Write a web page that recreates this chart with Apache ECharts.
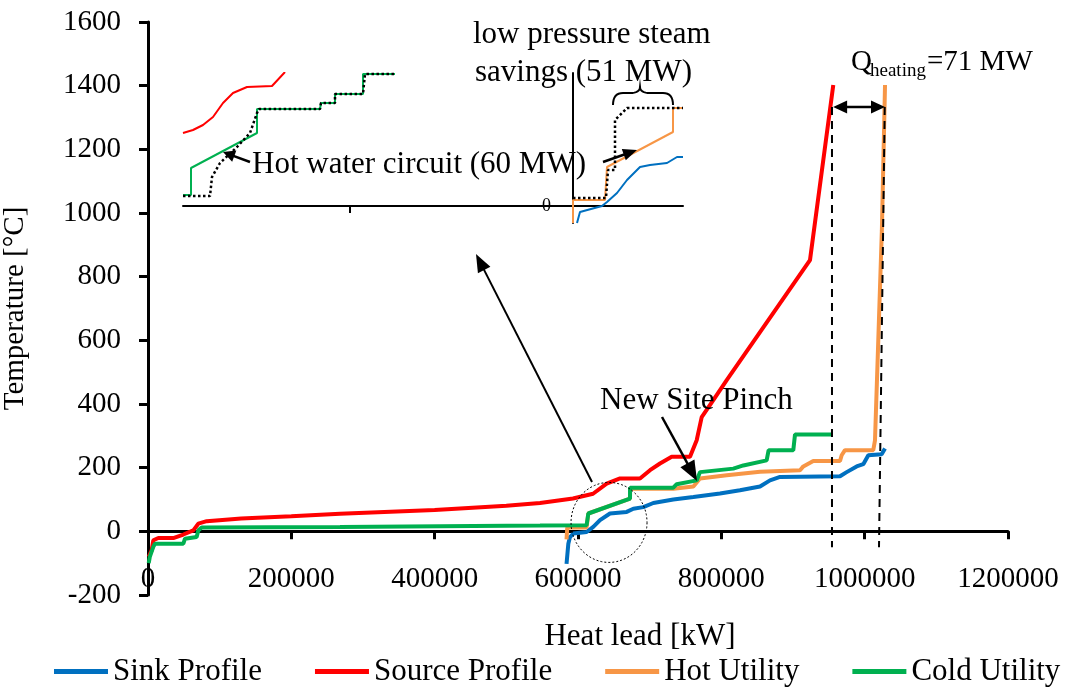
<!DOCTYPE html>
<html><head><meta charset="utf-8">
<script src="https://cdn.jsdelivr.net/npm/echarts@6/dist/echarts.min.js"></script>
<style>html,body{margin:0;padding:0;background:#fff}#c{width:1069px;height:689px}</style>
</head><body><div id="c"></div>
<script>
const FONT = '"Liberation Serif","Times New Roman",serif';
const FS = 29;   // tick labels
const FT = 31;   // horizontal annotation / legend text

// ---- main chart data: [heat load kW, temperature °C] ----
const sinkProfile = [[584000,-102],[586500,-39],[588800,-18],[593400,-7],[612000,-2],[621300,14],[630700,35],[644600,56],[667900,61],[677200,71],[691100,76],[705100,89],[733000,100],[761000,108],[798100,119],[826000,129],[854000,141],[867900,160],[881900,171],[965600,173],[974900,186],[988800,204],[998100,211],[1005100,239],[1023700,242],[1028400,260]];
const sourceProfile = [[1000,-80],[5100,-60],[7400,-28],[14400,-21],[35300,-21],[49300,-10],[63200,3],[70200,24],[81900,32],[130000,40],[200000,47],[268000,55],[400000,67],[500000,80],[547000,89],[593000,103],[621000,118],[640000,150],[658600,166],[686500,166],[700500,192],[714400,213],[730700,234],[756300,234],[765600,286],[772600,359],[788800,412],[807500,475],[923700,852],[956200,1402]];
const hotUtility = [[584000,-25],[585000,12],[612000,12],[614400,56],[672600,103],[672600,134],[733000,134],[761000,141],[770200,166],[807500,176],[854000,187],[909800,192],[914400,204],[928300,221],[965600,221],[967900,239],[972500,255],[1012000,255],[1014400,286],[1019000,600],[1024000,946],[1028400,1402]];
const coldUtility = [[1000,-100],[2500,-80],[7400,-49],[9700,-39],[49300,-39],[51600,-23],[67900,-18],[70200,3],[74900,12],[268000,14],[547000,18],[612000,19],[614400,56],[672600,103],[672600,137],[733000,137],[737700,148],[765600,160],[770200,186],[816700,197],[830700,207],[863200,223],[866000,255],[900400,255],[902800,304],[953900,304]];

// ---- inset (zoomed detail) data, relative units ----
const insetSource = [[-390,73],[-380,76],[-370,81],[-360,89],[-350,103],[-340,113],[-326,119],[-301,120],[-288,134]];
const insetColdLeft = [[-390,11],[-382,11],[-382,38],[-316,73],[-316,97],[-253,97],[-252,103],[-238,103],[-238,112],[-210,112],[-210,132],[-178,132]];
const insetDottedLeft = [[-390,10],[-363,10],[-361,29],[-353,43],[-336,59],[-323,73],[-316,93],[-314,97],[-253,97],[-252,103],[-238,103],[-238,112],[-210,112],[-208,132],[-178,132]];
const insetHot = [[0,-17],[0,6],[32,6],[34,39],[100,74],[100,98],[110,98]];
const insetDottedRight = [[0,8],[33,8],[35,36],[42,36],[42,86],[54,98],[110,98]];
const insetSink = [[4,-17],[7,-6],[29,0],[34,4],[44,13],[54,26],[67,39],[77,41],[94,43],[104,49],[110,49]];

const seriesNames = ['Sink Profile','Source Profile','Hot Utility','Cold Utility'];
const colors = {sink:'#0070C0', source:'#FF0000', hot:'#F79646', cold:'#00B050'};

const chart = echarts.init(document.getElementById('c'), null, {renderer:'canvas'});

function line(name, data, color, width, xi, type) {
  return {name, type:'line', data, xAxisIndex:xi, yAxisIndex:xi, showSymbol:false, symbol:'none',
    lineStyle:{color, width, type: type||'solid'}, itemStyle:{color}, animation:false, z: 3};
}
const txt = {color:'#000', fontFamily:FONT, fontSize:FS};
const plain = v => String(v);

const option = {
  backgroundColor:'#fff',
  animation:false,
  grid:[
    {left:148, right:61, top:22, bottom:94, outerBoundsMode:'none', containLabel:false},
    {left:183, right:386, top:73, bottom:466, outerBoundsMode:'none', containLabel:false}
  ],
  legend:{
    data:seriesNames, left:54, top:656, itemWidth:54, itemHeight:5, itemGap:53, icon:'rect', padding:0,
    textStyle:{color:'#000', fontFamily:FONT, fontSize:FT}
  },
  xAxis:[
    {gridIndex:0, type:'value', min:0, max:1200000, interval:200000,
     axisLine:{onZero:true, lineStyle:{color:'#000', width:3}},
     axisTick:{show:true, length:8, lineStyle:{color:'#000', width:3}},
     axisLabel:{...txt, margin:-30, formatter:plain},
     splitLine:{show:false}},
    {gridIndex:1, type:'value', min:-390, max:110,
     axisLine:{onZero:true, lineStyle:{color:'#000', width:2}},
     axisTick:{show:true, customValues:[-223], length:7, lineStyle:{color:'#000', width:2}},
     axisLabel:{show:false}, splitLine:{show:false}}
  ],
  yAxis:[
    {gridIndex:0, type:'value', min:-200, max:1600, interval:200,
     name:'Temperature [°C]', nameLocation:'middle', nameGap:118, nameRotate:90,
     nameTextStyle:{...txt},
     axisLine:{show:true, onZero:false, lineStyle:{color:'#000', width:3}},
     axisTick:{show:true, length:9, lineStyle:{color:'#000', width:3}},
     axisLabel:{...txt, margin:27, formatter:plain},
     splitLine:{show:false}},
    {gridIndex:1, type:'value', min:-17, max:133,
     axisLine:{show:true, onZero:true, lineStyle:{color:'#000', width:2}},
     axisTick:{show:false},
     axisLabel:{color:'#000', fontFamily:FONT, fontSize:18, margin:-368, customValues:[0], formatter:plain},
     splitLine:{show:false}}
  ],
  series:[
    line('Sink Profile', sinkProfile, colors.sink, 4, 0),
    line('Source Profile', sourceProfile, colors.source, 4, 0),
    line('Hot Utility', hotUtility, colors.hot, 4, 0),
    line('Cold Utility', coldUtility, colors.cold, 4, 0),
    line('inset source', insetSource, colors.source, 2, 1),
    line('inset cold', insetColdLeft, colors.cold, 2, 1),
    line('inset dotted left', insetDottedLeft, '#000', 2.5, 1, 'dotted'),
    line('inset hot', insetHot, colors.hot, 2, 1),
    line('inset sink', insetSink, colors.sink, 2, 1),
    line('inset dotted right', insetDottedRight, '#000', 2.5, 1, 'dotted')
  ]
};
chart.setOption(option);

function P(x, y) { return chart.convertToPixel({gridIndex:0}, [x, y]); }

function arrow(x1, y1, x2, y2, hl, hw, lw, both) {
  const dx = x2 - x1, dy = y2 - y1, L = Math.hypot(dx, dy);
  const ux = dx / L, uy = dy / L, nx = -uy, ny = ux;
  const els = [];
  const head = (tx, ty, sx, sy) => ({type:'polygon', z:100,
    shape:{points:[[tx,ty],[tx - sx*hl + nx*hw/2, ty - sy*hl + ny*hw/2],[tx - sx*hl - nx*hw/2, ty - sy*hl - ny*hw/2]]},
    style:{fill:'#000'}});
  const sx1 = both ? x1 + ux*hl*0.8 : x1, sy1 = both ? y1 + uy*hl*0.8 : y1;
  els.push({type:'line', z:100, shape:{x1:sx1, y1:sy1, x2:x2 - ux*hl*0.8, y2:y2 - uy*hl*0.8}, style:{stroke:'#000', lineWidth:lw}});
  els.push(head(x2, y2, ux, uy));
  if (both) els.push(head(x1, y1, -ux, -uy));
  return els;
}
function text(s, x, y, size, align) {
  return {type:'text', z:100, x, y, style:{text:s, fill:'#000', fontFamily:FONT, fontSize:size||FT,
    align:align||'left', verticalAlign:'middle'}};
}
function quad(p0, c, p1, n) {
  const pts = [];
  for (let i = 0; i <= n; i++) {
    const t = i / n, a = (1-t)*(1-t), b = 2*(1-t)*t, d = t*t;
    pts.push([a*p0[0] + b*c[0] + d*p1[0], a*p0[1] + b*c[1] + d*p1[1]]);
  }
  return pts;
}

const g = [];
// dashed pinch lines
const dl1a = P(954400, 1333), dl1b = P(954400, -50);
const dl2a = P(1028000, 1333), dl2b = P(1020000, -50);
g.push({type:'line', z:90, shape:{x1:dl1a[0], y1:dl1a[1], x2:dl1b[0], y2:dl1b[1]}, style:{stroke:'#000', lineWidth:2, lineDash:[8,6]}});
g.push({type:'line', z:90, shape:{x1:dl2a[0], y1:dl2a[1], x2:dl2b[0], y2:dl2b[1]}, style:{stroke:'#000', lineWidth:2, lineDash:[8,6]}});
// double arrow Q heating
const qa = P(956000, 1333), qb = P(1028400, 1333);
g.push(...arrow(qa[0], qa[1], qb[0], qb[1], 14, 13, 2.5, true));
g.push(text('Q', 851, 62, 29));
g.push(text('heating', 870, 71, 19));
g.push(text('=71 MW', 927, 62, 29));
// dotted ellipse around pinch region
const cc = P(643300, 28), rx = 38, ry = 40, ell = [];
for (let i = 0; i <= 96; i++) { const a = i / 96 * Math.PI * 2; ell.push([cc[0] + rx*Math.cos(a), cc[1] + ry*Math.sin(a)]); }
g.push({type:'polyline', z:90, shape:{points:ell}, style:{fill:null, stroke:'#000', lineWidth:1, lineDash:[2,2]}});
// big arrow to inset
g.push(...arrow(592, 482, 476, 254, 18, 14, 2));
// New Site Pinch
g.push(text('New Site Pinch', 600, 401));
g.push(...arrow(662, 417, 697, 481, 20, 16, 2.5));
// inset annotations
g.push(text('Hot water circuit (60 MW)', 252, 165));
g.push(...arrow(250, 162, 223, 152, 12, 12, 2.5));
g.push(...arrow(603, 162, 637, 150, 14, 12, 2.5));
g.push(text('low pressure steam', 473, 35));
g.push(text('savings (51 MW)', 475, 73));
const brace = [].concat(
  quad([613,105],[613,93],[623,93],8), [[630,93]],
  quad([630,93],[640,93],[640,87],8), quad([640,87],[640,93],[650,93],8), [[663,93]],
  quad([663,93],[673,93],[673,105],8));
g.push({type:'polyline', z:100, shape:{points:brace}, style:{fill:null, stroke:'#000', lineWidth:2}});
// x-axis name
g.push(text('Heat lead [kW]', 640, 637, FT, 'center'));

chart.setOption({graphic: g});
</script>
</body></html>
